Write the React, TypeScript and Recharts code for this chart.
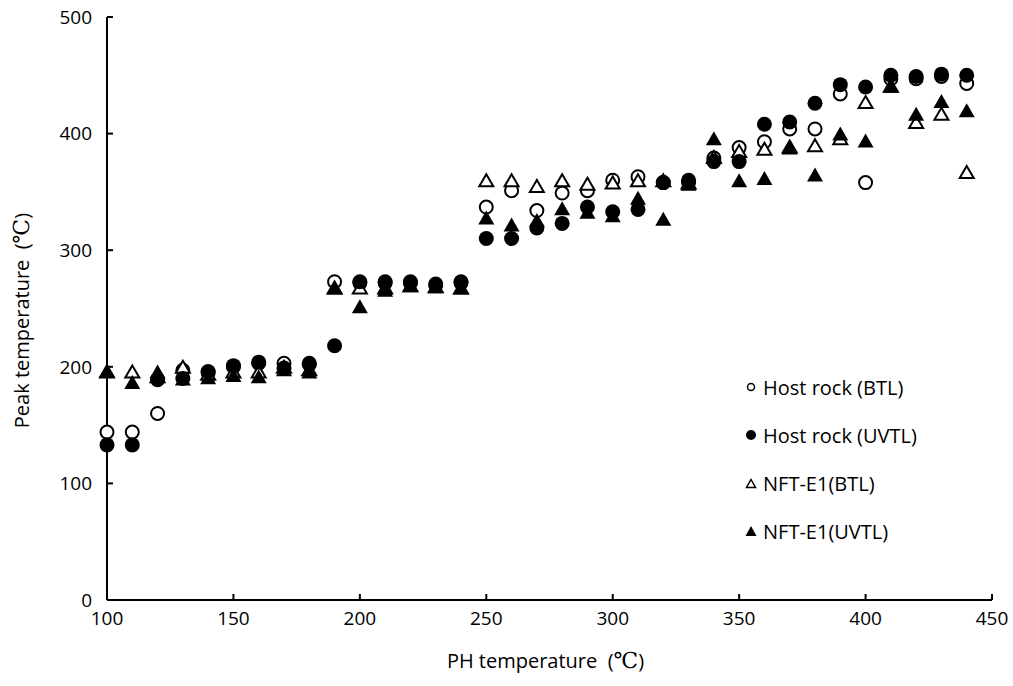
import { ScatterChart, Scatter, XAxis, YAxis, Legend } from 'recharts';

// PH temperature (°C), every 10 degrees
const phTemps = [
  100, 110, 120, 130, 140, 150, 160, 170, 180, 190, 200, 210, 220, 230, 240, 250, 260, 270,
  280, 290, 300, 310, 320, 330, 340, 350, 360, 370, 380, 390, 400, 410, 420, 430, 440,
];

const hostBTL = [
  144, 144, 160, 197, 195, 200, 203, 203, 202, 273, 272, 272, 272, 270, 272, 337, 351, 334,
  349, 351, 360, 363, 358, 358, 379, 388, 393, 404, 404, 434, 358, 447, 447, 449, 443,
];
const hostUVTL = [
  133, 133, 189, 190, 196, 201, 204, 199, 203, 218, 273, 273, 273, 271, 273, 310, 310, 319,
  323, 337, 333, 335, 358, 360, 376, 376, 408, 410, 426, 442, 440, 450, 449, 451, 450,
];
const nftBTL = [
  196, 196, 192, 200, 194, 196, 196, 200, 198, 268, 268, 268, 270, 269, 268, 360, 360, 355,
  360, 357, 358, 360, 360, 358, 380, 385, 387, 389, 390, 396, 427, 441, 410, 417, 367,
];
const nftUVTL = [
  197, 187, 196, 190, 191, 193, 192, 198, 196, 268, 252, 266, 270, 269, 268, 328, 322, 326,
  336, 333, 330, 345, 327, 357, 396, 360, 362, 388, 365, 400, 394, 441, 417, 428, 420,
];

const xTicks = [100, 150, 200, 250, 300, 350, 400, 450];
const yTicks = [0, 100, 200, 300, 400, 500];

const toPoints = (ys: number[]) => phTemps.map((x, i) => ({ x, y: ys[i] }));

const FONT = '"Open Sans", sans-serif';
const DEG = '"DejaVu Serif", serif';

const OpenCircle = (p: any) => <circle cx={p.cx} cy={p.cy} r={6.5} fill="#fff" stroke="#000" strokeWidth={2} />;
const FilledCircle = (p: any) => <circle cx={p.cx} cy={p.cy} r={7.5} fill="#000" />;
const tri = (cx: number, cy: number, w: number, h: number) =>
  `${cx},${cy - h / 2} ${cx + w / 2},${cy + h / 2} ${cx - w / 2},${cy + h / 2}`;
const OpenTriangle = (p: any) => (
  <polygon points={tri(p.cx, p.cy, 14, 12)} fill="#fff" stroke="#000" strokeWidth={2} strokeLinejoin="miter" />
);
const FilledTriangle = (p: any) => <polygon points={tri(p.cx, p.cy, 16, 14)} fill="#000" />;

const legendItems = [
  { name: 'Host rock (BTL)', kind: 'oc' },
  { name: 'Host rock (UVTL)', kind: 'fc' },
  { name: 'NFT-E1(BTL)', kind: 'ot' },
  { name: 'NFT-E1(UVTL)', kind: 'ft' },
];

const LegendMarker = ({ kind }: { kind: string }) => (
  <svg width={12} height={12} style={{ marginRight: 6 }}>
    {kind === 'oc' && <circle cx={6} cy={6} r={3.5} fill="#fff" stroke="#000" strokeWidth={1.5} />}
    {kind === 'fc' && <circle cx={6} cy={6} r={5} fill="#000" />}
    {kind === 'ot' && <polygon points={tri(6, 6.5, 9, 8)} fill="#fff" stroke="#000" strokeWidth={1.5} />}
    {kind === 'ft' && <polygon points={tri(6, 6, 11, 10)} fill="#000" />}
  </svg>
);

const CustomLegend = () => (
  <div style={{ fontFamily: FONT, fontSize: 20, color: '#000' }}>
    {legendItems.map((it) => (
      <div key={it.name} style={{ display: 'flex', alignItems: 'center', height: 48 }}>
        <LegendMarker kind={it.kind} />
        <span>{it.name}</span>
      </div>
    ))}
  </div>
);

const YTitle = ({ viewBox }: any) => {
  const x = viewBox.x + 21;
  const y = viewBox.y + viewBox.height / 2 + 12;
  return (
    <text x={x} y={y} transform={`rotate(-90, ${x}, ${y})`} textAnchor="middle" dominantBaseline="central"
      fontFamily={FONT} fontSize={20} fill="#000" style={{ whiteSpace: 'pre' }}>
      {'Peak temperature  ('}<tspan fontFamily={DEG} fontSize={22}>℃</tspan>)
    </text>
  );
};

const XTitle = ({ viewBox }: any) => {
  const x = viewBox.x + viewBox.width / 2 - 4;
  const y = viewBox.y + 60;
  return (
    <text x={x} y={y} textAnchor="middle" dominantBaseline="central" fontFamily={FONT} fontSize={20} fill="#000"
      style={{ whiteSpace: 'pre' }}>
      {'PH temperature  ('}<tspan fontFamily={DEG} fontSize={22}>℃</tspan>)
    </text>
  );
};

export default function App() {
  return (
    <div style={{ position: 'absolute', left: 0, top: 0, background: '#fff' }}>
      <ScatterChart width={1013} height={686} margin={{ top: 17, right: 21, left: 0, bottom: 0 }}>
        <XAxis
          type="number"
          dataKey="x"
          domain={[100, 450]}
          ticks={xTicks}
          height={86}
          axisLine={{ stroke: '#000', strokeWidth: 2 }}
          tickLine={{ stroke: '#000', strokeWidth: 2 }}
          tickSize={-6}
          tickMargin={18}
          tick={{ fill: '#000', fontSize: 19, fontFamily: FONT }}
          label={<XTitle />}
        />
        <YAxis
          type="number"
          dataKey="y"
          domain={[0, 500]}
          ticks={yTicks}
          width={107}
          axisLine={{ stroke: '#000', strokeWidth: 2 }}
          tickLine={{ stroke: '#000', strokeWidth: 2 }}
          tickSize={-6}
          tickMargin={21}
          tick={{ fill: '#000', fontSize: 19, fontFamily: FONT }}
          label={<YTitle />}
        />
        <Legend content={<CustomLegend />} layout="vertical" verticalAlign="middle" align="center"
          wrapperStyle={{ left: 745, top: 363, width: 260 }} />
        <Scatter name="Host rock (BTL)" data={toPoints(hostBTL)} shape={OpenCircle} isAnimationActive={false} />
        <Scatter name="NFT-E1(BTL)" data={toPoints(nftBTL)} shape={OpenTriangle} isAnimationActive={false} />
        <Scatter name="NFT-E1(UVTL)" data={toPoints(nftUVTL)} shape={FilledTriangle} isAnimationActive={false} />
        <Scatter name="Host rock (UVTL)" data={toPoints(hostUVTL)} shape={FilledCircle} isAnimationActive={false} />
      </ScatterChart>
    </div>
  );
}
